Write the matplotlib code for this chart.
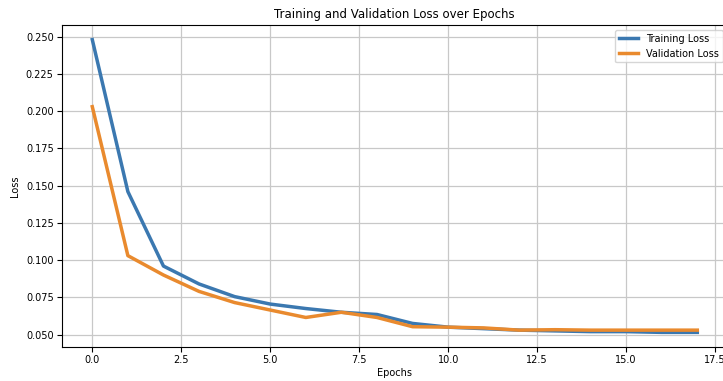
import matplotlib
matplotlib.use("Agg")
import matplotlib.pyplot as plt

epochs = list(range(18))
train_loss = [0.248, 0.146, 0.096, 0.084, 0.0755, 0.0705, 0.0675, 0.065, 0.0635, 0.0575,
              0.055, 0.054, 0.053, 0.0525, 0.052, 0.052, 0.0515, 0.0515]
val_loss = [0.203, 0.103, 0.090, 0.079, 0.0715, 0.0665, 0.0615, 0.065, 0.0615, 0.0553,
            0.055, 0.0545, 0.053, 0.0533, 0.053, 0.053, 0.053, 0.053]

fig = plt.figure(figsize=(7.23, 3.81), dpi=100)
ax = fig.add_axes([0.0858, 0.0892, 0.9205, 0.8452])

ax.plot(epochs, train_loss, color="#3b78b0", lw=2.5, label="Training Loss")
ax.plot(epochs, val_loss, color="#e98a2e", lw=2.5, label="Validation Loss")

ax.set_title("Training and Validation Loss over Epochs", fontsize=8.5, pad=5)
ax.set_xlabel("Epochs", fontsize=7, labelpad=2)
ax.set_ylabel("Loss", fontsize=7)
ax.tick_params(labelsize=7, pad=2.5)
ax.set_yticks([0.05, 0.075, 0.1, 0.125, 0.15, 0.175, 0.2, 0.225, 0.25])
ax.grid(True, color="#c8c8c8", lw=0.9)
ax.legend(loc="upper right", fontsize=7)

fig.savefig("out.png", dpi=100)
